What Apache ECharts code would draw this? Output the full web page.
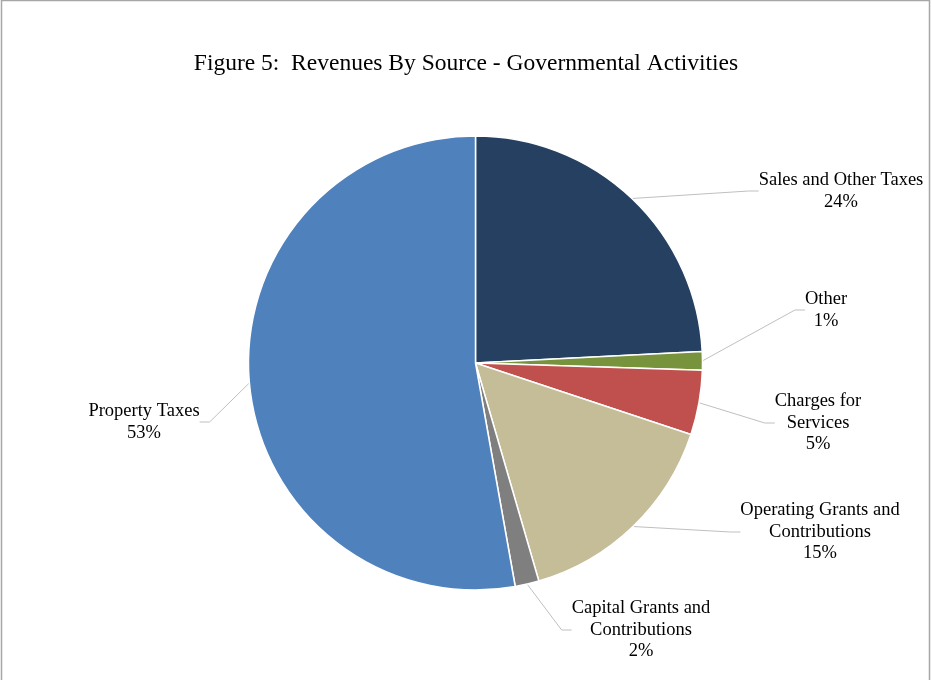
<!DOCTYPE html>
<html><head><meta charset="utf-8">
<script src="https://cdn.jsdelivr.net/npm/echarts@6/dist/echarts.min.js"></script>
<style>html,body{margin:0;padding:0;background:#fff}#c{width:932px;height:680px}</style>
</head><body><div id="c"></div>
<script>
const categories = ['Sales and Other Taxes','Other','Charges for Services','Operating Grants and Contributions','Capital Grants and Contributions','Property Taxes'];
const labelText = ['Sales and Other Taxes','Other','Charges for\nServices','Operating Grants and\nContributions','Capital Grants and\nContributions','Property Taxes'];
const values = [24.2, 1.3, 4.6, 15.4, 1.7, 52.8];
const colors = ['#264061','#77933C','#C0504D','#C4BD97','#7F7F7F','#4F81BD'];
const labelPos = [[841,191],[826,310],[818,423],[820,532],[641,630],[144,422]];

const chart = echarts.init(document.getElementById('c'));
chart.setOption({
  animation:false,
  title:{text:'Figure 5:  Revenues By Source - Governmental Activities',left:'center',top:47,
    textStyle:{fontFamily:'Liberation Serif',fontSize:23.5,fontWeight:'normal',color:'#000'}},
  graphic:[{type:'rect',shape:{x:1.5,y:0.5,width:928,height:720},style:{fill:'none',stroke:'#A6A6A6',lineWidth:1.5},silent:true}],
  series:[{
    type:'pie',center:[475.5,363],radius:227,startAngle:90,clockwise:true,
    percentPrecision:0,
    itemStyle:{borderColor:'#fff',borderWidth:1.5},
    data: categories.map((n,i)=>({name:n,value:values[i],itemStyle:{color:colors[i]}})),
    label:{show:true,fontFamily:'Liberation Serif',fontSize:18.5,lineHeight:21.5,color:'#000',align:'center',
      formatter:p=>labelText[p.dataIndex]+'\n'+p.percent+'%'},
    labelLine:{show:true,length:15,length2:10,lineStyle:{color:'#BFBFBF',width:1}},
    labelLayout:p=>({x:labelPos[p.dataIndex][0],y:labelPos[p.dataIndex][1],align:'center',verticalAlign:'middle'})
  }]
});
</script></body></html>
